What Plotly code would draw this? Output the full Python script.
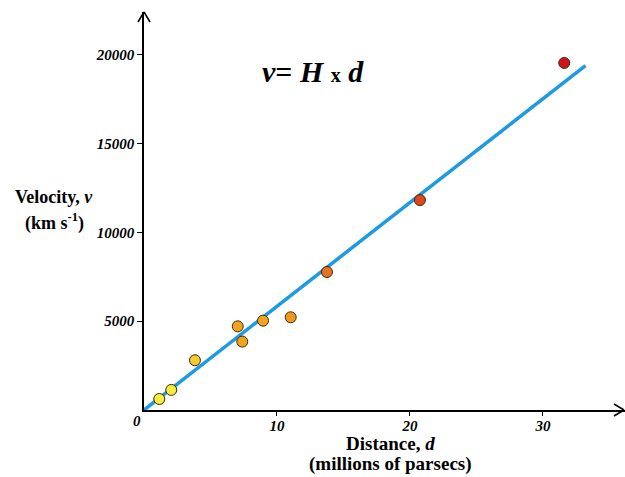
import plotly.graph_objects as go

# Data
distance = [1.15, 2.05, 3.83, 7.05, 7.39, 8.95, 11.03, 13.76, 20.75, 31.6]
velocity = [620, 1130, 2800, 4710, 3850, 5030, 5220, 7770, 11820, 19540]
point_colors = ["#f6ec3c", "#f6ec3c", "#f5cc30", "#f2a41e", "#f2a41e", "#f2a41e",
                "#f2961e", "#e8731c", "#e0461c", "#d0141a"]
fit_x = [0, 33.2]
fit_y = [0, 19390]

x_ticks = [10, 20, 30]
y_ticks = [5000, 10000, 15000, 20000]

FONT = "Liberation Serif"
L, R, T, B = 144, 0, 12, 67
W, H = 625, 477
PW, PH = W - L - R, H - T - B


def px(x):
    return (x - L) / PW


def py(y):
    return (H - B - y) / PH


fig = go.Figure()
fig.add_trace(go.Scatter(x=fit_x, y=fit_y, mode="lines",
                         line=dict(color="#1e9be0", width=3.5),
                         hoverinfo="skip", showlegend=False))
fig.add_trace(go.Scatter(x=distance, y=velocity, mode="markers",
                         marker=dict(size=11, color=point_colors,
                                     line=dict(color="#3a2a10", width=1)),
                         showlegend=False))

fig.update_layout(
    width=W, height=H,
    margin=dict(l=L, r=R, t=T, b=B),
    paper_bgcolor="white", plot_bgcolor="white",
    font=dict(family=FONT, color="black"),
    xaxis=dict(range=[0, 36.17], tickvals=x_ticks,
               ticktext=[f"<b><i>{t}</i></b>" for t in x_ticks],
               showgrid=False, zeroline=False, showline=True,
               linecolor="black", linewidth=1.5,
               ticks="outside", ticklen=4, tickcolor="black", tickwidth=1,
               ticklabelstandoff=-3,
               tickfont=dict(family=FONT, size=15)),
    yaxis=dict(range=[0, 22410], tickvals=y_ticks,
               ticktext=[f"<b><i>{t}</i></b>" for t in y_ticks],
               showgrid=False, zeroline=False, showline=True,
               linecolor="black", linewidth=1.5,
               ticks="outside", ticklen=5, tickcolor="black", tickwidth=1,
               tickfont=dict(family=FONT, size=15)),
)

# axis arrowheads (open chevrons), in paper coords
for (x0, y0, x1, y1) in [(614, 404, 624, 410), (614, 416, 624, 410),
                         (138, 22, 144, 12), (150, 22, 144, 12)]:
    fig.add_shape(type="line", xref="paper", yref="paper",
                  x0=px(x0), y0=py(y0), x1=px(x1), y1=py(y1),
                  line=dict(color="black", width=1.5))

# texts (positions in picture pixels, converted to paper coords)
anns = [
    dict(x=137, y=421, text="<b><i>0</i></b>", size=15),
    dict(x=313, y=71, text="<b><i>v</i>= <i>H</i> <span style='font-size:20px'>x</span> <i>d</i></b>", size=30),
    dict(x=54, y=197, text="<b>Velocity, <i>v</i></b>", size=18),
    dict(x=54, y=222, text="<b>(km s<sup>-1</sup>)</b>", size=18),
    dict(x=390, y=443, text="<b>Distance, <i>d</i></b>", size=19),
    dict(x=390, y=464, text="<b>(millions of parsecs)</b>", size=19),
]
for a in anns:
    fig.add_annotation(x=px(a["x"]), y=py(a["y"]),
                       xref="paper", yref="paper",
                       text=a["text"], showarrow=False,
                       font=dict(family=FONT, size=a["size"], color="black"),
                       xanchor="center", yanchor="middle")

fig.write_html("out.html")
